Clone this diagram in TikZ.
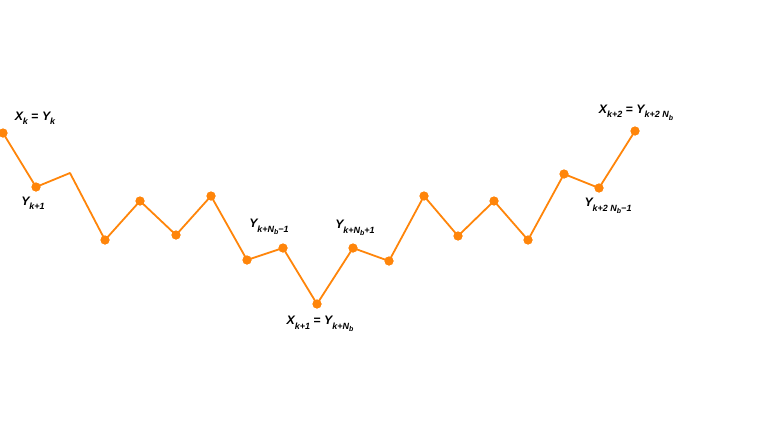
\documentclass[tikz,border=0pt]{standalone}
\usepackage{fontspec}
\setmainfont{Liberation Sans}
\definecolor{lineorange}{RGB}{255,133,10}
\newcommand{\sbs}[1]{\raisebox{-0.35em}{\fontsize{9}{10}\selectfont #1}}
\newcommand{\ssbs}[1]{\raisebox{-0.3em}{\fontsize{7}{8}\selectfont #1}}
\begin{document}
\begin{tikzpicture}[x=1pt,y=-1pt,
  pt/.style={circle,fill=lineorange,inner sep=0pt,minimum size=9pt},
  lbl/.style={font=\fontsize{12.3}{14}\selectfont\bfseries\itshape,inner sep=0pt},
  link/.style={draw=lineorange,line width=1.8pt,line join=round}]
\useasboundingbox (0,0) rectangle (763,436);
\node[pt] (p0) at (3,133) {};
\node[pt] (p1) at (36,187) {};
\coordinate (p2) at (70,173);
\node[pt] (p3) at (105,240) {};
\node[pt] (p4) at (140,201) {};
\node[pt] (p5) at (176,235) {};
\node[pt] (p6) at (211,196) {};
\node[pt] (p7) at (247,260) {};
\node[pt] (p8) at (283,248) {};
\node[pt] (p9) at (317,304) {};
\node[pt] (p10) at (353,248) {};
\node[pt] (p11) at (389,261) {};
\node[pt] (p12) at (424,196) {};
\node[pt] (p13) at (458,236) {};
\node[pt] (p14) at (494,201) {};
\node[pt] (p15) at (528,240) {};
\node[pt] (p16) at (564,174) {};
\node[pt] (p17) at (599,188) {};
\node[pt] (p18) at (635,131) {};
\draw[link] (p0.center) -- (p1.center) -- (p2) -- (p3.center) -- (p4.center) -- (p5.center) -- (p6.center) -- (p7.center) -- (p8.center) -- (p9.center) -- (p10.center) -- (p11.center) -- (p12.center) -- (p13.center) -- (p14.center) -- (p15.center) -- (p16.center) -- (p17.center) -- (p18.center);
\foreach \i in {0,1,3,4,5,6,7,8,9,10,11,12,13,14,15,16,17,18} {\node[pt] at (p\i) {};}
\node[lbl] (l0) at (35,118) {X\sbs{k} {\upshape =} Y\sbs{k}};
\node[lbl] (l1) at (33,203) {Y\sbs{k+1}};
\node[lbl] (l7) at (269,227) {Y\sbs{k+N\ssbs{b}−1}};
\node[lbl] (l10) at (355,228) {Y\sbs{k+N\ssbs{b}+1}};
\node[lbl] (l9) at (320,324) {X\sbs{k+1} {\upshape =} Y\sbs{k+N\ssbs{b}}};
\node[lbl] (l18) at (636,113) {X\sbs{k+2} {\upshape =} Y\sbs{k+2 N\ssbs{b}}};
\node[lbl] (l17) at (608,206) {Y\sbs{k+2 N\ssbs{b}−1}};
\end{tikzpicture}
\end{document}
